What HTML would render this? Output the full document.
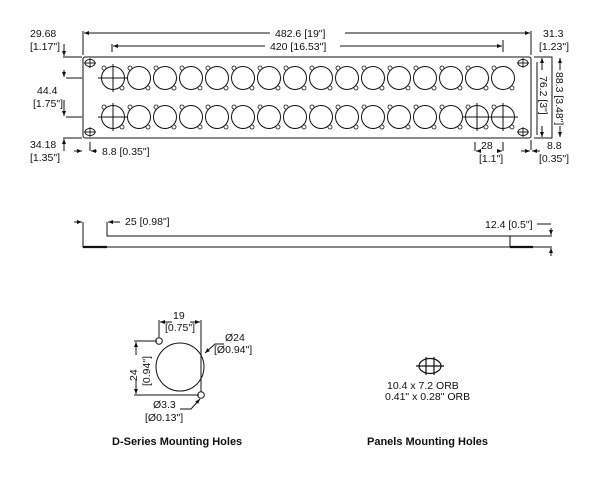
<!DOCTYPE html>
<html><head><meta charset="utf-8"><style>
html,body{margin:0;padding:0;background:#fff;width:600px;height:494px;overflow:hidden}
svg text{font-family:"Liberation Sans",Arial,sans-serif;font-size:10.5px;fill:#111}
</style></head><body>
<svg width="600" height="494" viewBox="0 0 600 494" xmlns="http://www.w3.org/2000/svg">
<defs>
<marker id="a" viewBox="0 0 10 10" refX="10" refY="5" markerWidth="5" markerHeight="5" orient="auto-start-reverse"><path d="M0,1 L10,5 L0,9 z" fill="#111"/></marker>
<g id="c"><circle r="11.5" fill="none" stroke="#111" stroke-width="1"/><circle cx="-9" cy="-10" r="2" fill="#fff" stroke="#111" stroke-width="0.8"/><circle cx="9" cy="10" r="2" fill="#fff" stroke="#111" stroke-width="0.8"/></g>
<g id="m"><ellipse rx="5" ry="3.6" fill="none" stroke="#111" stroke-width="0.9"/><line x1="-6" y1="0" x2="6" y2="0" stroke="#111" stroke-width="0.9"/><line x1="0" y1="-5" x2="0" y2="5" stroke="#111" stroke-width="0.9"/></g>
<g id="x"><line x1="-15" y1="0" x2="15" y2="0" stroke="#111" stroke-width="1"/><line x1="0" y1="-14" x2="0" y2="14" stroke="#111" stroke-width="1"/></g>
</defs>
<g stroke="#111" stroke-width="1" fill="none">
<rect x="83" y="57" width="448" height="81" rx="2"/>
<line x1="83" y1="55" x2="83" y2="31"/>
<line x1="531" y1="55" x2="531" y2="31"/>
<line x1="270" y1="33" x2="84" y2="33" marker-end="url(#a)"/>
<line x1="345" y1="33" x2="530" y2="33" marker-end="url(#a)"/>
<line x1="112" y1="52" x2="112" y2="44"/>
<line x1="503" y1="52" x2="503" y2="40"/>
<line x1="265" y1="46" x2="113" y2="46" marker-end="url(#a)"/>
<line x1="340" y1="46" x2="502" y2="46" marker-end="url(#a)"/>
<line x1="63" y1="57" x2="82" y2="57"/>
<line x1="64" y1="44" x2="64" y2="56" marker-end="url(#a)"/>
<line x1="63" y1="138" x2="82" y2="138"/>
<line x1="64" y1="151" x2="64" y2="139" marker-end="url(#a)"/>
<path d="M66,78 H82 M66,117 H82"/>
<line x1="64" y1="70" x2="64" y2="77" marker-end="url(#a)"/>
<line x1="64" y1="100" x2="64" y2="116" marker-end="url(#a)"/>
<line x1="74" y1="151" x2="82" y2="151" marker-end="url(#a)"/>
<line x1="90" y1="142" x2="90" y2="151"/>
<line x1="97" y1="151" x2="91" y2="151" marker-end="url(#a)"/>
<path d="M534,57 H552 V138 H534"/>
<line x1="537" y1="62" x2="537" y2="135"/>
<line x1="542" y1="70" x2="542" y2="58" marker-end="url(#a)"/>
<line x1="542" y1="126" x2="542" y2="137" marker-end="url(#a)"/>
<line x1="560" y1="70" x2="560" y2="58" marker-end="url(#a)"/>
<line x1="560" y1="126" x2="560" y2="137" marker-end="url(#a)"/>
<line x1="531" y1="140" x2="531" y2="150"/>
<line x1="521" y1="151" x2="530" y2="151" marker-end="url(#a)"/>
<line x1="540" y1="151" x2="532" y2="151" marker-end="url(#a)"/>
<line x1="475" y1="142" x2="475" y2="151"/>
<line x1="503" y1="142" x2="503" y2="151"/>
<line x1="481" y1="151" x2="476" y2="151" marker-end="url(#a)"/>
<line x1="497" y1="151" x2="502" y2="151" marker-end="url(#a)"/>
<path d="M83,222 V247 H552"/>
<path d="M107,222 V236 H552"/>
<path d="M510,236 V247"/>
<path d="M83,247 H107 M510,247 H533" stroke-width="2.2"/>
<line x1="74" y1="222" x2="82" y2="222" marker-end="url(#a)"/>
<line x1="120" y1="222" x2="108" y2="222" marker-end="url(#a)"/>
<path d="M537,224 H551"/>
<line x1="551" y1="228" x2="551" y2="235" marker-end="url(#a)"/>
<line x1="551" y1="256" x2="551" y2="248" marker-end="url(#a)"/>
<circle cx="180" cy="367" r="24"/>
<circle cx="159" cy="341" r="3.3" fill="#fff"/>
<circle cx="201" cy="395" r="3.3" fill="#fff"/>
<path d="M159,337 V320 M201,392 V320"/>
<line x1="172" y1="322" x2="160" y2="322" marker-end="url(#a)"/>
<line x1="190" y1="322" x2="200" y2="322" marker-end="url(#a)"/>
<path d="M157,341 H134 M199,395 H134"/>
<line x1="136" y1="355" x2="136" y2="342" marker-end="url(#a)"/>
<line x1="136" y1="380" x2="136" y2="394" marker-end="url(#a)"/>
<path d="M224,344 H215 L205,353" marker-end="url(#a)"/>
<path d="M180,409 H191 L200,399" marker-end="url(#a)"/>
<ellipse cx="430" cy="366" rx="11" ry="7.5" stroke-width="1.2"/>
<path d="M416,366 H444 M426,357 V375 M434,357 V375" stroke-width="1.2"/>
</g>
<use href="#m" x="90" y="63"/><use href="#m" x="90" y="132"/>
<use href="#m" x="523" y="63"/><use href="#m" x="523" y="132"/>
<g id="row1">
<use href="#c" x="113" y="78"/><use href="#c" x="139" y="78"/><use href="#c" x="165" y="78"/><use href="#c" x="191" y="78"/><use href="#c" x="217" y="78"/><use href="#c" x="243" y="78"/><use href="#c" x="269" y="78"/><use href="#c" x="295" y="78"/><use href="#c" x="321" y="78"/><use href="#c" x="347" y="78"/><use href="#c" x="373" y="78"/><use href="#c" x="399" y="78"/><use href="#c" x="425" y="78"/><use href="#c" x="451" y="78"/><use href="#c" x="477" y="78"/><use href="#c" x="503" y="78"/>
</g>
<use href="#row1" y="39"/>
<use href="#x" x="113" y="78"/><use href="#x" x="113" y="117"/><use href="#x" x="477" y="117"/><use href="#x" x="503" y="117"/>
<text x="30" y="37">29.68</text>
<text x="30" y="50">[1.17"]</text>
<text x="37" y="94">44.4</text>
<text x="33" y="107">[1.75"]</text>
<text x="30" y="148">34.18</text>
<text x="30" y="161">[1.35"]</text>
<text x="102" y="155">8.8 [0.35"]</text>
<text x="275" y="37">482.6 [19"]</text>
<text x="270" y="50">420 [16.53"]</text>
<text x="543" y="37">31.3</text>
<text x="539" y="50">[1.23"]</text>
<text x="481" y="149">28</text>
<text x="479" y="162">[1.1"]</text>
<text x="547" y="149">8.8</text>
<text x="539" y="162">[0.35"]</text>
<text transform="translate(556,72) rotate(90)">88.3 [3.48"]</text>
<text transform="translate(540,76) rotate(90)">76.2 [3"]</text>
<text x="125" y="225">25 [0.98"]</text>
<text x="485" y="228">12.4 [0.5"]</text>
<text x="173" y="319">19</text>
<text x="165" y="331">[0.75"]</text>
<text x="225" y="341">Ø24</text>
<text x="214" y="353">[Ø0.94"]</text>
<text transform="translate(137,381) rotate(-90)">24</text>
<text transform="translate(150,386) rotate(-90)">[0.94"]</text>
<text x="153" y="408">Ø3.3</text>
<text x="145" y="421">[Ø0.13"]</text>
<text x="112" y="445" style="font-weight:bold;font-size:11px">D-Series Mounting Holes</text>
<text x="387" y="389">10.4 x 7.2 ORB</text>
<text x="385" y="400">0.41" x 0.28" ORB</text>
<text x="367" y="445" style="font-weight:bold;font-size:11px">Panels Mounting Holes</text>
</svg>
</body></html>
